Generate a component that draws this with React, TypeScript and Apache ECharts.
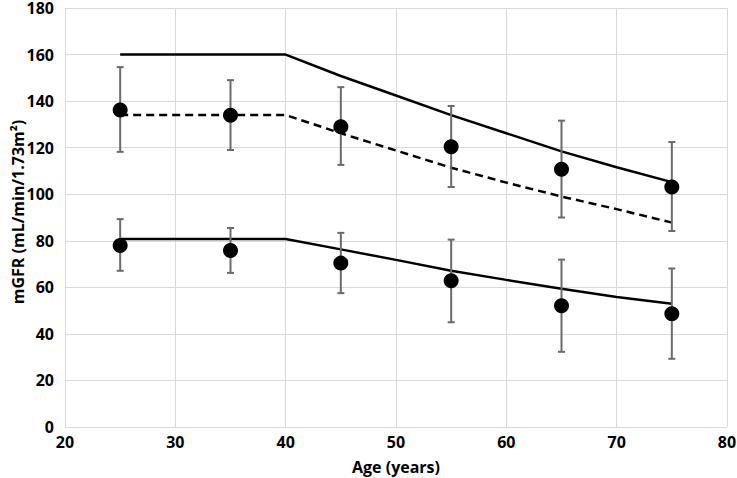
import React, { useEffect, useRef } from "react";
import * as echarts from "echarts";

const lineAges = [25, 40, 45, 50, 55, 60, 65, 70, 75];
const upperLine = [160, 160, 150.8, 142.4, 134, 126.2, 118.4, 111.6, 105.2];
const dashedLine = [134, 134, 126.2, 118.8, 111.4, 105, 99, 93.6, 87.8];
const lowerLine = [80.8, 80.8, 76.3, 71.8, 67.1, 63.2, 59.4, 55.8, 52.9];

const pointAges = [25, 35, 45, 55, 65, 75];
const upperMean = [136.2, 133.9, 129, 120.4, 110.7, 103.1];
const upperLow = [118.2, 119, 112.6, 103.1, 90, 84.2];
const upperHigh = [154.6, 149, 146, 137.9, 131.6, 122.4];
const lowerMean = [78, 75.8, 70.4, 62.8, 52.1, 48.6];
const lowerLow = [67.1, 66.2, 57.5, 45, 32.3, 29.3];
const lowerHigh = [89.3, 85.5, 83.4, 80.5, 71.9, 68.1];

const xTicks = [20, 30, 40, 50, 60, 70, 80];
const yTicks = [0, 20, 40, 60, 80, 100, 120, 140, 160, 180];
const yTitle = "mGFR (mL/min/1.73m²)";
const xTitle = "Age (years)";

const FONT = "'Open Sans', 'Noto Sans', sans-serif";

function pairs(xs: number[], ys: number[]) {
  return xs.map((x, i) => [x, ys[i]]);
}

function errData(xs: number[], lo: number[], hi: number[]) {
  return xs.map((x, i) => [x, lo[i], hi[i]]);
}

const errRender = (params: any, api: any) => {
  const x = api.value(0);
  const lo = api.coord([x, api.value(1)]);
  const hi = api.coord([x, api.value(2)]);
  const cap = 3.5;
  const style = { stroke: "#6b6b6b", lineWidth: 2 };
  return {
    type: "group",
    children: [
      { type: "line", shape: { x1: lo[0], y1: lo[1], x2: hi[0], y2: hi[1] }, style },
      { type: "line", shape: { x1: lo[0] - cap, y1: lo[1], x2: lo[0] + cap, y2: lo[1] }, style },
      { type: "line", shape: { x1: hi[0] - cap, y1: hi[1], x2: hi[0] + cap, y2: hi[1] }, style },
    ],
  };
};

export default function App() {
  const ref = useRef<HTMLDivElement>(null);
  useEffect(() => {
    if (!ref.current) return;
    const chart = echarts.init(ref.current, null, { renderer: "svg" });
    const lineCommon = {
      type: "line",
      showSymbol: false,
      symbol: "none",
      silent: true,
      z: 3,
    };
    chart.setOption({
      animation: false,
      grid: { left: 65, right: 10, top: 8, bottom: 51, containLabel: false, outerBoundsMode: "none" },
      graphic: [
        {
          type: "text",
          x: 18,
          y: 212,
          rotation: Math.PI / 2,
          silent: true,
          style: {
            text: yTitle,
            align: "center",
            verticalAlign: "middle",
            fontFamily: FONT,
            fontWeight: "bold",
            fontSize: 16,
            fill: "#000",
          },
        },
      ],
      xAxis: {
        type: "value",
        min: xTicks[0],
        max: xTicks[xTicks.length - 1],
        interval: 10,
        name: xTitle,
        nameLocation: "middle",
        nameGap: 32,
        nameMoveOverlap: false,
        nameTextStyle: { fontFamily: FONT, fontWeight: "bold", fontSize: 16, color: "#000" },
        axisLine: { show: false },
        axisTick: { show: false },
        axisLabel: { fontFamily: FONT, fontWeight: "bold", fontSize: 16, color: "#000", margin: 7 },
        splitLine: { show: true, lineStyle: { color: "#d9d9d9", width: 1 } },
      },
      yAxis: {
        type: "value",
        min: yTicks[0],
        max: yTicks[yTicks.length - 1],
        interval: 20,
        axisLine: { show: false },
        axisTick: { show: false },
        axisLabel: { fontFamily: FONT, fontWeight: "bold", fontSize: 16, color: "#000", margin: 11, lineHeight: 14 },
        splitLine: { show: true, lineStyle: { color: "#d9d9d9", width: 1 } },
      },
      series: [
        {
          ...lineCommon,
          name: "upper",
          data: pairs(lineAges, upperLine),
          lineStyle: { color: "#000", width: 2.5 },
        },
        {
          ...lineCommon,
          name: "dashed",
          data: pairs(lineAges, dashedLine),
          lineStyle: { color: "#000", width: 2.5, type: [8, 5] },
        },
        {
          ...lineCommon,
          name: "lower",
          data: pairs(lineAges, lowerLine),
          lineStyle: { color: "#000", width: 2.5 },
        },
        {
          type: "custom",
          name: "errUpper",
          renderItem: errRender,
          data: errData(pointAges, upperLow, upperHigh),
          encode: { x: 0, y: [1, 2] },
          z: 4,
          silent: true,
        },
        {
          type: "custom",
          name: "errLower",
          renderItem: errRender,
          data: errData(pointAges, lowerLow, lowerHigh),
          encode: { x: 0, y: [1, 2] },
          z: 4,
          silent: true,
        },
        {
          type: "scatter",
          name: "meanUpper",
          data: pairs(pointAges, upperMean),
          symbol: "circle",
          symbolSize: 15,
          itemStyle: { color: "#000", opacity: 1 },
          z: 5,
          silent: true,
        },
        {
          type: "scatter",
          name: "meanLower",
          data: pairs(pointAges, lowerMean),
          symbol: "circle",
          symbolSize: 15,
          itemStyle: { color: "#000", opacity: 1 },
          z: 5,
          silent: true,
        },
      ],
    });
    return () => chart.dispose();
  }, []);
  return <div ref={ref} style={{ width: 737, height: 478, position: "absolute", left: 0, top: 0 }} />;
}
